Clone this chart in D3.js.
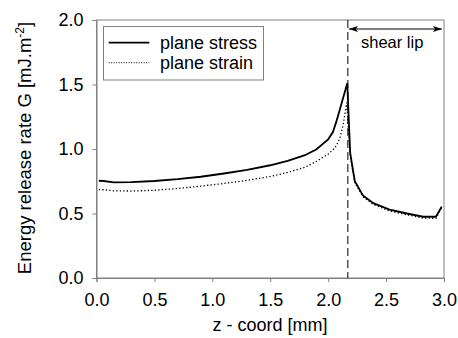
<!DOCTYPE html>
<html>
<head>
<meta charset="utf-8">
<script src="https://cdn.jsdelivr.net/npm/d3@7"></script>
<style>
  body { margin: 0; background: #fff; }
  svg text { font-family: Arial, "Liberation Sans", sans-serif; fill: #000; }
</style>
</head>
<body>
<svg id="svg" width="458" height="338"></svg>
<script>
// values
const stressZ = [0.02, 0.06, 0.15, 0.3, 0.5, 0.7, 0.9, 1.1, 1.3, 1.5, 1.65, 1.8, 1.9, 2.0, 2.04, 2.07, 2.165, 2.19, 2.23, 2.3, 2.39, 2.53, 2.68, 2.82, 2.93, 2.98]
const stressG = [0.754, 0.752, 0.742, 0.743, 0.752, 0.766, 0.785, 0.81, 0.838, 0.874, 0.908, 0.952, 0.998, 1.075, 1.13, 1.21, 1.51, 0.97, 0.75, 0.64, 0.58, 0.53, 0.50, 0.475, 0.475, 0.553]
const strainZ = [0.02, 0.06, 0.15, 0.3, 0.5, 0.7, 0.9, 1.1, 1.3, 1.5, 1.65, 1.8, 1.9, 2.0, 2.06, 2.1, 2.13, 2.16, 2.19, 2.23, 2.3, 2.39, 2.53, 2.68, 2.82, 2.93, 2.98]
const strainG = [0.685, 0.684, 0.676, 0.674, 0.68, 0.694, 0.712, 0.733, 0.757, 0.787, 0.818, 0.858, 0.905, 0.96, 1.01, 1.08, 1.19, 1.36, 0.95, 0.74, 0.63, 0.57, 0.52, 0.49, 0.465, 0.462, 0.545]
const xTicks = [0.0, 0.5, 1.0, 1.5, 2.0, 2.5, 3.0]
const yTicks = [0.0, 0.5, 1.0, 1.5, 2.0]
const shearLipStart = 2.17
const legendNames = ["plane stress", "plane strain"]

const svg = d3.select("#svg")
const x = d3.scaleLinear().domain([0, 3]).range([96.5, 444])
const y = d3.scaleLinear().domain([0, 2]).range([278, 20])

const frame = "#808080"

// plot frame
svg.append("rect")
  .attr("x", x(0)).attr("y", y(2))
  .attr("width", x(3) - x(0)).attr("height", y(0) - y(2))
  .attr("fill", "none").attr("stroke", frame).attr("stroke-width", 1)

const xAxis = svg.append("g")
  .attr("transform", "translate(0," + y(0) + ")")
  .call(d3.axisBottom(x).tickValues(xTicks).tickFormat(d3.format(".1f")).tickSizeOuter(0).tickSize(4).tickPadding(11))
const yAxis = svg.append("g")
  .attr("transform", "translate(" + x(0) + ",0)")
  .call(d3.axisLeft(y).tickValues(yTicks).tickFormat(d3.format(".1f")).tickSizeOuter(0).tickSize(4).tickPadding(9))

for (const ax of [xAxis, yAxis]) {
  ax.select(".domain").attr("stroke", frame)
  ax.selectAll(".tick line").attr("stroke", frame)
  ax.selectAll(".tick text").style("font-size", "18px").attr("fill", "#000")
}

// shear lip marker
svg.append("line")
  .attr("x1", x(shearLipStart)).attr("x2", x(shearLipStart))
  .attr("y1", y(2)).attr("y2", y(0))
  .attr("stroke", "#000").attr("stroke-width", 1).attr("stroke-dasharray", "8,4")

const defs = svg.append("defs")
for (const [id, pts] of [["arrR", "0,0 9,3 0,6 2,3"], ["arrL", "9,0 0,3 9,6 7,3"]]) {
  defs.append("marker").attr("id", id)
    .attr("markerWidth", 9).attr("markerHeight", 6)
    .attr("refX", id === "arrR" ? 9 : 0).attr("refY", 3)
    .attr("orient", "0").attr("markerUnits", "userSpaceOnUse")
    .append("polygon").attr("points", pts).attr("fill", "#000")
}
svg.append("line")
  .attr("x1", x(shearLipStart) + 1).attr("x2", x(3) - 2)
  .attr("y1", 29).attr("y2", 29)
  .attr("stroke", "#000").attr("stroke-width", 1)
  .attr("marker-start", "url(#arrL)").attr("marker-end", "url(#arrR)")
svg.append("text")
  .attr("x", 361).attr("y", 48)
  .style("font-size", "16.5px")
  .text("shear lip")

// curves
const line = d3.line().x(d => x(d[0])).y(d => y(d[1]))
svg.append("path")
  .datum(strainZ.map((z, i) => [z, strainG[i]]))
  .attr("d", line).attr("fill", "none")
  .attr("stroke", "#000").attr("stroke-width", 1.3).attr("stroke-dasharray", "1.3,2.2")
svg.append("path")
  .datum(stressZ.map((z, i) => [z, stressG[i]]))
  .attr("d", line).attr("fill", "none")
  .attr("stroke", "#000").attr("stroke-width", 1.8)

// legend
const lg = svg.append("g")
lg.append("rect")
  .attr("x", 103.5).attr("y", 26.5).attr("width", 160).attr("height", 53.5)
  .attr("fill", "#fff").attr("stroke", frame)
legendNames.forEach((name, i) => {
  const ly = 42.7 + i * 20
  lg.append("line")
    .attr("x1", 108.7).attr("x2", 149.3).attr("y1", ly).attr("y2", ly)
    .attr("stroke", "#000")
    .attr("stroke-width", i === 0 ? 1.8 : 1)
    .attr("stroke-dasharray", i === 0 ? null : "1,1.5")
  lg.append("text")
    .attr("x", 160).attr("y", ly + 6)
    .style("font-size", "18px")
    .text(name)
})

// axis titles
svg.append("text")
  .attr("x", 270).attr("y", 331)
  .attr("text-anchor", "middle")
  .style("font-size", "18px")
  .text("z - coord [mm]")

const yt = svg.append("text")
  .attr("transform", "translate(31,148) rotate(-90)")
  .attr("text-anchor", "middle")
  .style("font-size", "18.5px")
yt.append("tspan").text("Energy release rate G [mJ.m")
yt.append("tspan").attr("dy", -7).style("font-size", "12px").text("-2")
yt.append("tspan").attr("dy", 7).text("]")
</script>
</body>
</html>
